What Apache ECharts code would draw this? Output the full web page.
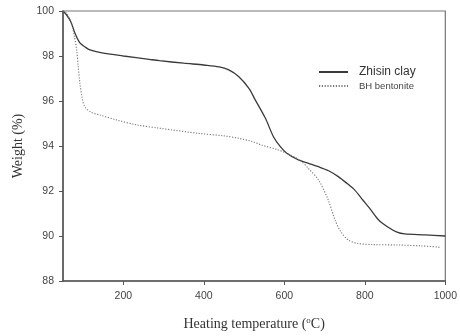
<!DOCTYPE html>
<html>
<head>
<meta charset="utf-8">
<script src="https://cdn.jsdelivr.net/npm/echarts@6/dist/echarts.min.js"></script>
<style>
  html, body { margin: 0; padding: 0; background: #fff; }
  #chart { width: 460px; height: 336px; }
</style>
</head>
<body>
<div id="chart"></div>
<script>
// Thermogravimetric curves: weight (%) vs heating temperature (°C)
const seriesNames = ['Zhisin clay', 'BH bentonite'];

const zhisinTemp = [50, 60, 70, 80, 92, 105, 117, 141, 200, 264, 290, 350, 400, 438, 462, 487, 512, 528, 553, 573, 590, 606, 635, 660, 685, 710, 734, 755, 775, 795, 815, 835, 857, 880, 899, 950, 1000];
const zhisinWeight = [100, 99.8, 99.5, 99.0, 98.58, 98.4, 98.27, 98.16, 98.0, 97.85, 97.79, 97.68, 97.6, 97.52, 97.38, 97.08, 96.56, 96.04, 95.23, 94.41, 93.97, 93.68, 93.38, 93.23, 93.08, 92.9, 92.64, 92.35, 92.04, 91.6, 91.16, 90.7, 90.4, 90.17, 90.09, 90.05, 90.0];

const bentoniteTemp = [50, 59, 65, 71, 78, 84, 88, 92, 97, 104, 120, 141, 183, 230, 290, 388, 450, 487, 520, 544, 580, 606, 640, 660, 685, 709, 726, 740, 759, 783, 820, 882, 940, 988];
const bentoniteWeight = [100, 99.9, 99.7, 99.45, 98.9, 98.27, 97.5, 96.79, 96.2, 95.75, 95.5, 95.38, 95.16, 94.95, 94.79, 94.56, 94.45, 94.34, 94.2, 94.04, 93.85, 93.68, 93.35, 93.0, 92.49, 91.6, 90.71, 90.2, 89.82, 89.67, 89.62, 89.6, 89.56, 89.5];

const xTicks = [200, 400, 600, 800, 1000];

const pair = (xs, ys) => xs.map((x, i) => [x, ys[i]]);

const chart = echarts.init(document.getElementById('chart'), null, { renderer: 'canvas' });

const axisColor = '#555';
const labelFont = { fontFamily: 'Liberation Sans, Arial, sans-serif', fontSize: 10.5, color: '#444' };

chart.setOption({
  animation: false,
  backgroundColor: '#fff',
  grid: {
    left: 63, right: 12, top: 11, bottom: 54,
    show: true, borderColor: '#777', borderWidth: 1.2
  },
  legend: {
    left: 313, top: 61, orient: 'vertical', itemGap: 3,
    itemWidth: 29, itemHeight: 10,
    itemStyle: { opacity: 0 },
    data: [
      { name: seriesNames[0], textStyle: { fontSize: 12, color: '#333', padding: [0, 0, 0, 6] } },
      { name: seriesNames[1], textStyle: { fontSize: 9.5, color: '#444', padding: [0, 0, 0, 6] } }
    ],
    textStyle: { fontFamily: 'Liberation Sans, Arial, sans-serif' }
  },
  xAxis: {
    type: 'value', min: 50, max: 1000,
    axisLine: { show: true, lineStyle: { color: axisColor, width: 1.5 } },
    axisTick: { show: true, length: 4, lineStyle: { color: axisColor },
      customValues: xTicks },
    axisLabel: Object.assign({ margin: 10, customValues: xTicks, formatter: v => String(v) }, labelFont),
    splitLine: { show: false },
    name: '{t|Heating temperature (}{s|o}{t|C)}',
    nameLocation: 'middle', nameGap: 35,
    nameTextStyle: {
      rich: {
        t: { fontFamily: 'Liberation Serif, Times New Roman, serif', fontSize: 14, color: '#333' },
        s: { fontFamily: 'Liberation Serif, Times New Roman, serif', fontSize: 9, color: '#333', verticalAlign: 'top', padding: [0, 0, 7, 0] }
      }
    }
  },
  yAxis: {
    type: 'value', min: 88, max: 100, interval: 2,
    axisLine: { show: true, lineStyle: { color: axisColor, width: 1.5 } },
    axisTick: { show: true, length: 4, lineStyle: { color: axisColor } },
    axisLabel: Object.assign({ margin: 9 }, labelFont),
    splitLine: { show: false },
    name: 'Weight (%)', nameLocation: 'middle', nameGap: 37,
    nameTextStyle: { fontFamily: 'Liberation Serif, Times New Roman, serif', fontSize: 14, color: '#333' }
  },
  series: [
    {
      name: seriesNames[0], type: 'line', smooth: 0.3, symbol: 'none',
      data: pair(zhisinTemp, zhisinWeight),
      lineStyle: { color: '#3a3a3a', width: 1.3, type: 'solid' },
      itemStyle: { color: '#3a3a3a' }
    },
    {
      name: seriesNames[1], type: 'line', smooth: 0.3, symbol: 'none',
      data: pair(bentoniteTemp, bentoniteWeight),
      lineStyle: { color: '#777', width: 1.1, type: [1.2, 1.6] },
      itemStyle: { color: '#777' }
    }
  ]
});
</script>
</body>
</html>
